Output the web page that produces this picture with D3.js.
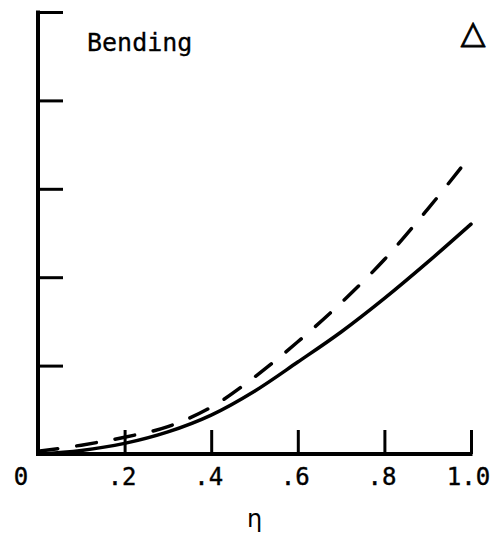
<!DOCTYPE html>
<html>
<head>
<meta charset="utf-8">
<script src="https://cdn.jsdelivr.net/npm/d3@7"></script>
<style>
  html, body { margin: 0; padding: 0; background: #fff; }
  svg { display: block; }
</style>
</head>
<body>
<svg id="chart" width="502" height="536"></svg>
<script>
// ---- data ----
const eta = [0, 0.1, 0.2, 0.3, 0.4, 0.5, 0.6, 0.7, 0.8, 0.9, 1.0];
const solidSeries = [0, 0.04, 0.12, 0.25, 0.44, 0.71, 1.04, 1.38, 1.76, 2.17, 2.60];
const dashedSeries = [0.03, 0.10, 0.19, 0.31, 0.53, 0.87, 1.27, 1.71, 2.20, 2.77, 3.38];
const xTickValues = [0, 0.2, 0.4, 0.6, 0.8, 1.0];
const xTickLabels = ["0", ".2", ".4", ".6", ".8", "1.0"];
const yTickValues = [0, 1, 2, 3, 4, 5];
const panelLabel = "Bending";
const cornerSymbol = "\u25B3";
const xAxisTitle = "\u03b7";

// ---- layout ----
const svg = d3.select("#chart");
const x = d3.scaleLinear().domain([0, 1]).range([38, 471]);
const y = d3.scaleLinear().domain([0, 5]).range([454, 12]);
const mono = "'DejaVu Sans Mono', monospace";

// y axis (ticks inward)
const yAxis = d3.axisRight(y).tickValues(yTickValues).tickSize(25).tickFormat("");
const gy = svg.append("g").attr("transform", `translate(${x(0)},0)`).call(yAxis);
gy.select(".domain").remove();
gy.selectAll(".tick line").attr("stroke", "#000").attr("stroke-width", 3);
gy.append("line")
  .attr("x1", 0).attr("x2", 0)
  .attr("y1", y(5) - 1.5).attr("y2", y(0) + 2)
  .attr("stroke", "#000").attr("stroke-width", 4);

// x axis (ticks inward)
const xAxis = d3.axisTop(x).tickValues(xTickValues.slice(1)).tickSize(24).tickFormat("");
const gx = svg.append("g").attr("transform", `translate(0,${y(0)})`).call(xAxis);
gx.select(".domain").remove();
gx.selectAll(".tick line").attr("stroke", "#000").attr("stroke-width", 3);
gx.append("line")
  .attr("x1", x(0) - 2).attr("x2", x(1) + 1.5)
  .attr("y1", 0).attr("y2", 0)
  .attr("stroke", "#000").attr("stroke-width", 4);

// tick labels
svg.append("g").selectAll("text")
  .data(xTickValues)
  .join("text")
  .attr("x", (d, i) => i === 0 ? x(d) - 17 : x(d) - 2.5)
  .attr("y", 485)
  .attr("text-anchor", "middle")
  .attr("font-family", mono)
  .attr("font-size", 24)
  .attr("fill", "#000")
  .attr("stroke", "#000")
  .attr("stroke-width", 0.4)
  .text((d, i) => xTickLabels[i]);

// axis title
svg.append("text")
  .attr("x", (x(0) + x(1)) / 2)
  .attr("y", 527)
  .attr("text-anchor", "middle")
  .attr("font-family", "'DejaVu Sans', sans-serif")
  .attr("font-size", 24)
  .attr("fill", "#000")
  .text(xAxisTitle);

// panel label
svg.append("text")
  .attr("x", 87)
  .attr("y", 51)
  .attr("font-family", mono)
  .attr("font-size", 25)
  .attr("fill", "#000")
  .attr("stroke", "#000")
  .attr("stroke-width", 0.3)
  .text(panelLabel);

// corner symbol
svg.append("text")
  .attr("x", 473)
  .attr("y", 43)
  .attr("text-anchor", "middle")
  .attr("font-family", "'DejaVu Sans', sans-serif")
  .attr("font-size", 32)
  .attr("fill", "#000")
  .attr("stroke", "#000")
  .attr("stroke-width", 0.9)
  .attr("stroke-linejoin", "round")
  .text(cornerSymbol);

// curves
const line = d3.line()
  .x((d, i) => x(eta[i]))
  .y(d => y(d))
  .curve(d3.curveCatmullRom.alpha(0.5));

svg.append("path")
  .datum(solidSeries)
  .attr("d", line)
  .attr("fill", "none")
  .attr("stroke", "#000")
  .attr("stroke-width", 3.5)
  .attr("stroke-linecap", "round");

svg.append("path")
  .datum(dashedSeries)
  .attr("d", line)
  .attr("fill", "none")
  .attr("stroke", "#000")
  .attr("stroke-width", 3.5)
  .attr("stroke-linecap", "round")
  .attr("stroke-dasharray", "20,19");
</script>
</body>
</html>
